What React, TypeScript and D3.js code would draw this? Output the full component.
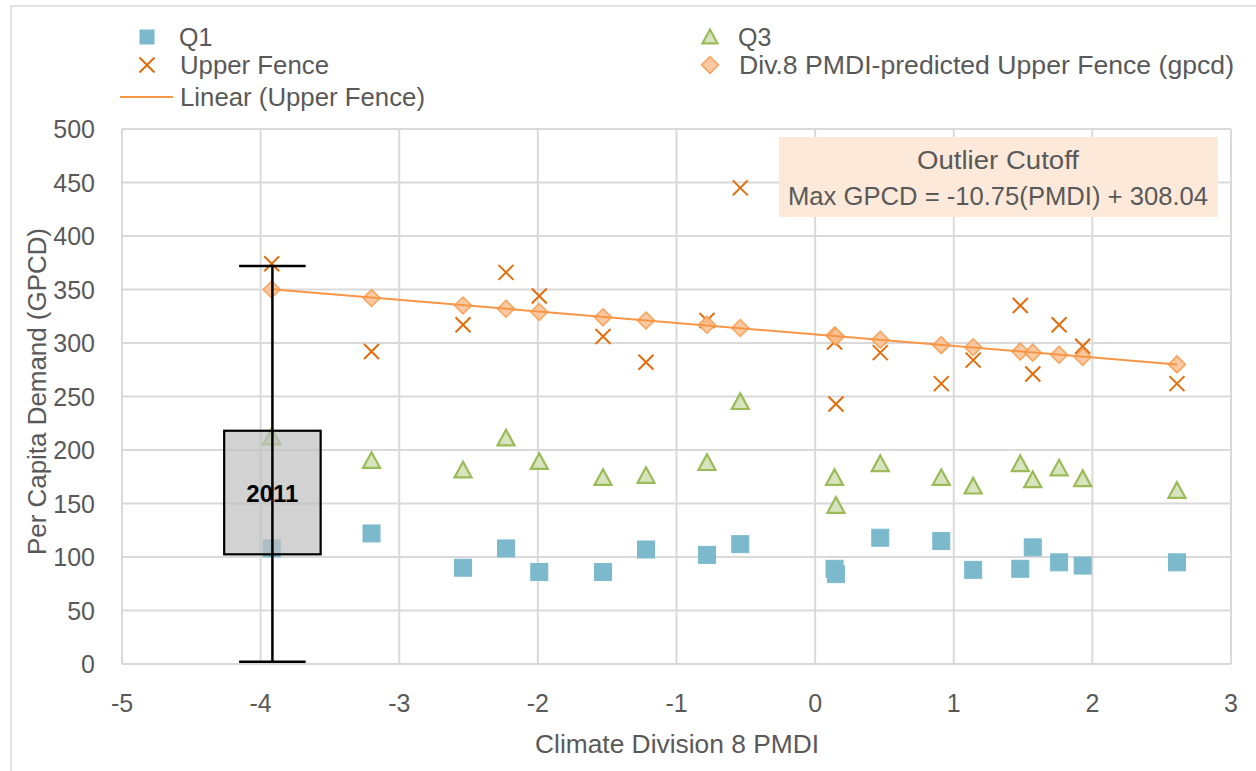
import * as d3 from 'd3'

const W = 1256, H = 771
const FONT = '"Liberation Sans", Arial, sans-serif'
const GREY_TEXT = '#595959'

// PMDI (x) with the four series
const pmdi = [-3.92, -3.2, -2.54, -2.23, -1.99, -1.53, -1.22, -0.78, -0.54, 0.14, 0.15, 0.47, 0.91, 1.14, 1.48, 1.57, 1.76, 1.93, 2.61]
const q1 = [108, 122, 90, 108, 86, 86, 107, 102, 112, 89, 84, 118, 115, 88, 89, 109, 95, 92, 95]
const q3 = [212, 190, 181, 211, 189, 174, 176, 188, 245, 174, 148, 187, 174, 166, 187, 172, 183, 173, 162]
const upperFence = [374, 292, 317, 366, 344, 306, 282, 321, 445, 301, 243, 291, 262, 284, 335, 271, 317, 297, 262]
const predicted = [350, 342, 335, 332, 329, 324, 321, 317, 314, 307, 306, 303, 298, 296, 292, 291, 289, 287, 280]

// trendline as printed on the chart
const TREND_SLOPE = -10.75
const TREND_INTERCEPT = 308.04

// 2011 box
const box = { x: -3.915, q1: 102.5, q3: 218, min: 2, max: 372, label: '2011' }
const BOX_HALF = 0.348, CAP_HALF = 0.24

const xTicks = [-5, -4, -3, -2, -1, 0, 1, 2, 3]
const yTicks = [0, 50, 100, 150, 200, 250, 300, 350, 400, 450, 500]

const x = d3.scaleLinear().domain([-5, 3]).range([122, 1231])
const y = d3.scaleLinear().domain([0, 500]).range([664, 129])

const SQ = '#7CB9CD'
const TRI_FILL = '#D7E4BD', TRI_STROKE = '#9BBB59'
const X_COL = '#E46C0A'
const DIA_FILL = '#FAC090', DIA_STROKE = '#F79646'
const LINE_COL = '#F79646'

const triPath = (cx: number, cy: number, s: number) =>
  `M${cx},${cy - s * 0.5}L${cx + s * 0.5},${cy + s * 0.42}L${cx - s * 0.5},${cy + s * 0.42}Z`
const diaPath = (cx: number, cy: number, s: number) =>
  `M${cx},${cy - s / 2}L${cx + s / 2},${cy}L${cx},${cy + s / 2}L${cx - s / 2},${cy}Z`
const crossPath = (cx: number, cy: number, s: number) =>
  `M${cx - s / 2},${cy - s / 2}L${cx + s / 2},${cy + s / 2}M${cx + s / 2},${cy - s / 2}L${cx - s / 2},${cy + s / 2}`

function Square({ cx, cy, s }: { cx: number; cy: number; s: number }) {
  return <rect x={cx - s / 2} y={cy - s / 2} width={s} height={s} fill={SQ} stroke={SQ} strokeWidth={1} />
}
function Tri({ cx, cy, s }: { cx: number; cy: number; s: number }) {
  return <path d={triPath(cx, cy, s)} fill={TRI_FILL} stroke={TRI_STROKE} strokeWidth={2.2} />
}
function Cross({ cx, cy, s }: { cx: number; cy: number; s: number }) {
  return <path d={crossPath(cx, cy, s)} stroke={X_COL} strokeWidth={2} fill="none" />
}
function Dia({ cx, cy, s }: { cx: number; cy: number; s: number }) {
  return <path d={diaPath(cx, cy, s)} fill={DIA_FILL} fillOpacity={0.85} stroke={DIA_STROKE} strokeWidth={1.5} strokeOpacity={0.85} />
}

// text stretched to the width it has in the picture
function T(props: any) {
  const { w, children, ...rest } = props
  return <text {...rest} textLength={w} lengthAdjust="spacingAndGlyphs">{children}</text>
}

export default function App() {
  const [x0, x1] = d3.extent(pmdi) as [number, number]
  const trend = d3.line<number>().x(d => x(d)).y(d => y(TREND_SLOPE * d + TREND_INTERCEPT))([x0, x1])

  return (
    <div style={{ position: 'absolute', left: 0, top: 0 }}>
      <svg width={W} height={H} viewBox={`0 0 ${W} ${H}`} style={{ display: 'block', background: '#fff' }} fontFamily={FONT}>
        <rect x={11} y={6} width={W + 20} height={H + 20} fill="#fff" stroke="#D9D9D9" strokeWidth={1.5} />

        {/* grid */}
        <g stroke="#D9D9D9" strokeWidth={2}>
          {yTicks.map(t => <line key={'gy' + t} x1={x(-5)} x2={x(3)} y1={y(t)} y2={y(t)} />)}
          {xTicks.map(t => <line key={'gx' + t} x1={x(t)} x2={x(t)} y1={y(0)} y2={y(500)} />)}
        </g>

        {/* tick labels */}
        <g fill={GREY_TEXT} fontSize={25}>
          {yTicks.map(t => <text key={'ly' + t} x={95} y={y(t) + 9} textAnchor="end">{t}</text>)}
          {xTicks.map(t => <text key={'lx' + t} x={x(t)} y={712} textAnchor="middle">{t}</text>)}
        </g>
        <T x={535} y={753} w={284} fontSize={25} fill={GREY_TEXT}>Climate Division 8 PMDI</T>
        <T transform={`translate(46,555) rotate(-90)`} w={327} fontSize={25} fill={GREY_TEXT}>Per Capita Demand (GPCD)</T>

        {/* series */}
        <g>{pmdi.map((p, i) => <Square key={'q1' + i} cx={x(p)} cy={y(q1[i])} s={17} />)}</g>
        <g>{pmdi.map((p, i) => <Tri key={'q3' + i} cx={x(p)} cy={y(q3[i])} s={17} />)}</g>
        <g>{pmdi.map((p, i) => <Cross key={'uf' + i} cx={x(p)} cy={y(upperFence[i])} s={15} />)}</g>
        <g>{pmdi.map((p, i) => <Dia key={'pr' + i} cx={x(p)} cy={y(predicted[i])} s={17} />)}</g>
        <path d={trend ?? ''} stroke={LINE_COL} strokeWidth={2} fill="none" />

        {/* 2011 box */}
        <rect x={x(box.x - BOX_HALF)} y={y(box.q3)} width={x(box.x + BOX_HALF) - x(box.x - BOX_HALF)}
          height={y(box.q1) - y(box.q3)} fill="#BFBFBF" fillOpacity={0.7} stroke="#000" strokeWidth={2.2} />
        <g stroke="#000" strokeWidth={2.5}>
          <line x1={x(box.x)} x2={x(box.x)} y1={y(box.max)} y2={y(box.min)} />
          <line x1={x(box.x - CAP_HALF)} x2={x(box.x + CAP_HALF)} y1={y(box.max)} y2={y(box.max)} />
          <line x1={x(box.x - CAP_HALF)} x2={x(box.x + CAP_HALF)} y1={y(box.min)} y2={y(box.min)} />
        </g>
        <text x={x(box.x)} y={y((box.q1 + box.q3) / 2) + 9} textAnchor="middle" fontSize={24} fontWeight="bold" fill="#000">{box.label}</text>

        {/* annotation */}
        <rect x={779} y={137} width={439} height={80} fill="#FDE9D9" />
        <T x={917} y={169} w={162} fontSize={25} fill={GREY_TEXT}>Outlier Cutoff</T>
        <T x={788} y={205} w={420} fontSize={25} fill={GREY_TEXT}>Max GPCD = -10.75(PMDI) + 308.04</T>

        {/* legend */}
        <g fontSize={25} fill={GREY_TEXT}>
          <Square cx={147} cy={37} s={14} />
          <text x={179} y={46}>Q1</text>
          <Cross cx={147} cy={65} s={15} />
          <T x={180} y={74} w={149}>Upper Fence</T>
          <line x1={120} x2={173} y1={97} y2={97} stroke={LINE_COL} strokeWidth={2} />
          <T x={180} y={106} w={245}>Linear (Upper Fence)</T>
          <Tri cx={710} cy={37} s={15} />
          <text x={738} y={46}>Q3</text>
          <Dia cx={710} cy={65} s={17} />
          <T x={739} y={74} w={495}>Div.8 PMDI-predicted Upper Fence (gpcd)</T>
        </g>
      </svg>
    </div>
  )
}
